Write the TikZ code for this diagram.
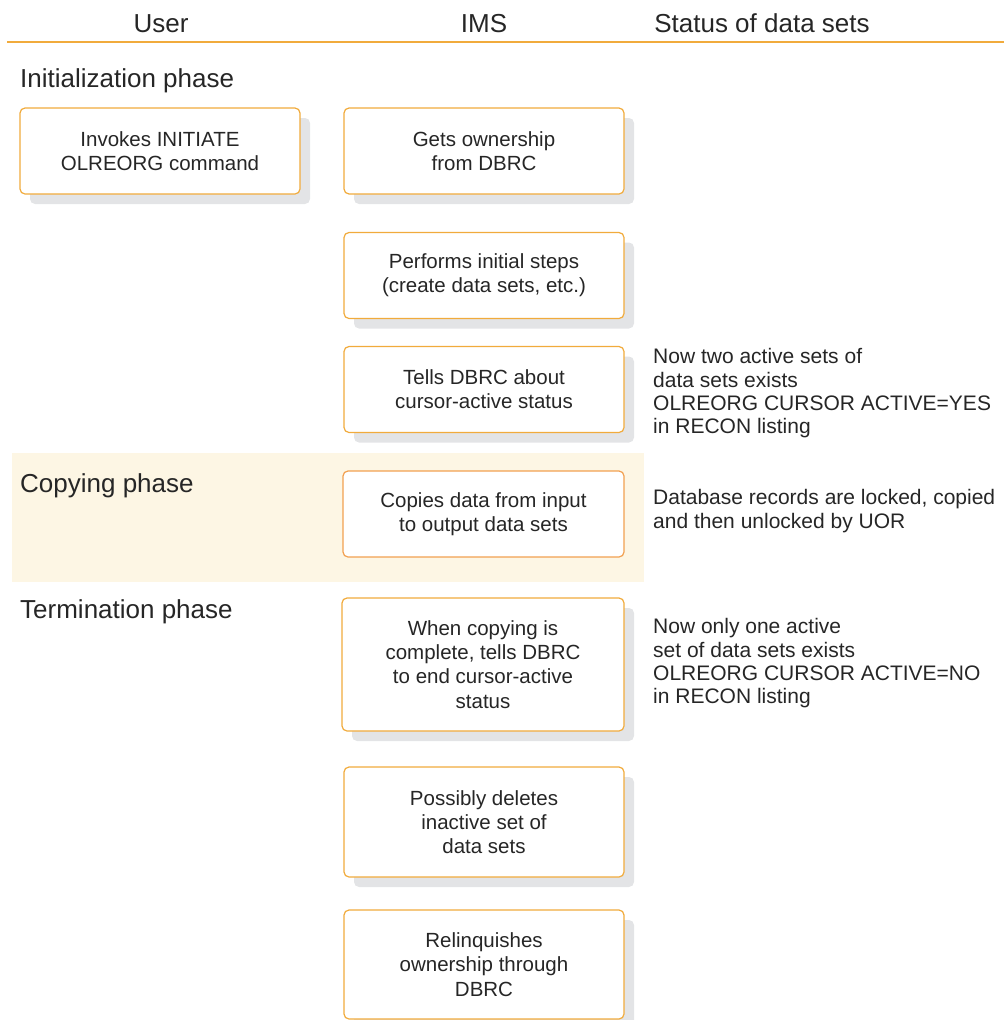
\documentclass[tikz,border=0pt]{standalone}
\usepackage{fontspec}
\setmainfont{Liberation Sans}
\usetikzlibrary{shadows}
\definecolor{boxorange}{HTML}{F1AB3C}
\definecolor{copyorange}{HTML}{F2A050}
\definecolor{shadowgray}{HTML}{E3E4E6}
\definecolor{bandcream}{HTML}{FDF6E4}
\definecolor{txt}{HTML}{262626}
\tikzset{
  stepbox/.style={draw=boxorange, line width=1.2pt, rounded corners=5pt, fill=white,
    minimum width=280pt, align=center, text=txt, inner sep=2pt,
    font=\fontsize{20.5}{24.3}\selectfont,
    drop shadow={shadow xshift=10pt, shadow yshift=-10pt, fill=shadowgray, opacity=1}},
  copybox/.style={draw=copyorange, line width=1.2pt, rounded corners=5pt, fill=white,
    minimum width=281pt, align=center, text=txt, inner sep=2pt,
    font=\fontsize{20.5}{24.3}\selectfont},
  headtext/.style={anchor=base, text=txt, inner sep=0pt, font=\fontsize{26}{30}\selectfont},
  phasetext/.style={anchor=base west, text=txt, inner sep=0pt, font=\fontsize{26}{30}\selectfont},
  statustext/.style={anchor=north west, align=left, text=txt, inner sep=0pt,
    font=\fontsize{21}{23.2}\selectfont},
}
\begin{document}
\begin{tikzpicture}[x=1pt,y=-1pt]
\useasboundingbox (0,0) rectangle (1004,1020);
% copying band
\fill[bandcream] (12,453) rectangle (644,582);
% header
\node[headtext] (hu) at (161,32) {User};
\node[headtext] (hi) at (484,32) {IMS};
\node[headtext] (hs) at (762,32) {Status of data sets};
\coordinate (rl) at (7,42);
\coordinate (rr) at (1004,42);
\draw[boxorange, line width=1.3pt] (rl) -- (rr);
% phase labels
\node[phasetext] (p1) at (20,87) {Initialization phase};
\node[phasetext] (p2) at (20,492) {Copying phase};
\node[phasetext] (p3) at (20,618) {Termination phase};
% boxes
\node[stepbox, minimum height=86pt] (inv) at (160,151) {Invokes INITIATE\\OLREORG command};
\node[stepbox, minimum height=86pt] (own) at (484,151) {Gets ownership\\from DBRC};
\node[stepbox, minimum height=86pt] (perf) at (484,275.5) {Performs initial steps\\(create data sets, etc.)};
\node[stepbox, minimum height=86pt] (tell) at (484,389.5) {Tells DBRC about\\cursor-active status};
\node[copybox, minimum height=86pt] (copy) at (483.5,514) {Copies data from input\\to output data sets};
\node[stepbox, minimum height=133pt, minimum width=282pt] (endc) at (483,664.5) {When copying is\\complete, tells DBRC\\to end cursor-active\\status};
\node[stepbox, minimum height=110pt] (del) at (484,822) {Possibly deletes\\inactive set of\\data sets};
\node[stepbox, minimum height=109pt] (rel) at (484,964.5) {Relinquishes\\ownership through\\DBRC};
% status texts
\node[statustext] (s1) at (653,348.5) {Now two active sets of\\data sets exists\\OLREORG CURSOR ACTIVE=YES\\in RECON listing};
\node[statustext] (s2) at (653,489.5) {Database records are locked, copied\\and then unlocked by UOR};
\node[statustext] (s3) at (653,618.5) {Now only one active\\set of data sets exists\\OLREORG CURSOR ACTIVE=NO\\in RECON listing};
\end{tikzpicture}
\end{document}
